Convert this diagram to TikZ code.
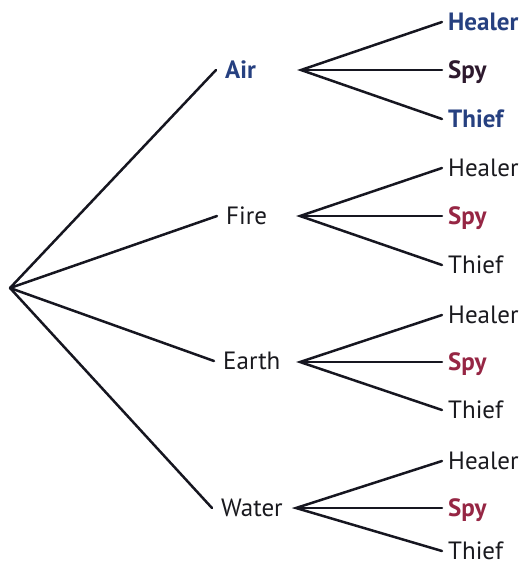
\documentclass[tikz,border=0pt]{standalone}
\usepackage{fontspec}
\setmainfont{PT Sans}
\definecolor{inkline}{RGB}{22,22,32}
\definecolor{navy}{RGB}{38,64,128}
\definecolor{plum}{RGB}{45,25,45}
\definecolor{crimson}{RGB}{150,38,68}
\definecolor{inktext}{RGB}{25,25,30}
\begin{document}
\begin{tikzpicture}[x=1pt,y=-1pt,
  branch/.style={draw=inkline,line width=2.5pt,line cap=round},
  lab/.style={anchor=west,inner ysep=0pt,text height=17.5pt,text depth=0pt,
    font=\fontsize{25}{29}\selectfont,text=inktext},
  bf/.style={font=\fontsize{25}{29}\selectfont\bfseries},
  mid/.style={lab,inner xsep=9pt},
  leaf/.style={lab,inner xsep=6pt}]
\useasboundingbox (0,0) rectangle (532,566);
\coordinate (root) at (10,288);
% level 1
\node[mid,bf,text=navy] (air) at (216,70) {Air};
\node[mid] (fire) at (217,216) {Fire};
\node[mid] (earth) at (214,361) {Earth};
\node[mid] (water) at (212,508) {Water};
\foreach \n in {air,fire,earth,water}{\draw[branch] (root) -- (\n.west);}
% fan origins
\coordinate (a0) at (301,70);
\coordinate (f0) at (300,216);
\coordinate (e0) at (300,362);
\coordinate (w0) at (296,508);
% leaves
\node[leaf,bf,text=navy] (aH) at (442,22) {Healer};
\node[leaf,bf,text=plum] (aS) at (442,70) {Spy};
\node[leaf,bf,text=navy] (aT) at (442,119) {Thief};
\node[leaf] (fH) at (442,168) {Healer};
\node[leaf,bf,text=crimson] (fS) at (442,216) {Spy};
\node[leaf] (fT) at (442,265) {Thief};
\node[leaf] (eH) at (442,315) {Healer};
\node[leaf,bf,text=crimson] (eS) at (442,362) {Spy};
\node[leaf] (eT) at (442,410) {Thief};
\node[leaf] (wH) at (442,461) {Healer};
\node[leaf,bf,text=crimson] (wS) at (442,508) {Spy};
\node[leaf] (wT) at (442,551) {Thief};
\foreach \o/\p in {a0/a,f0/f,e0/e,w0/w}{
  \draw[branch] (\p H.west) -- (\o) -- (\p T.west);
  \draw[branch] (\o) -- (\p S.west);}
\end{tikzpicture}
\end{document}
